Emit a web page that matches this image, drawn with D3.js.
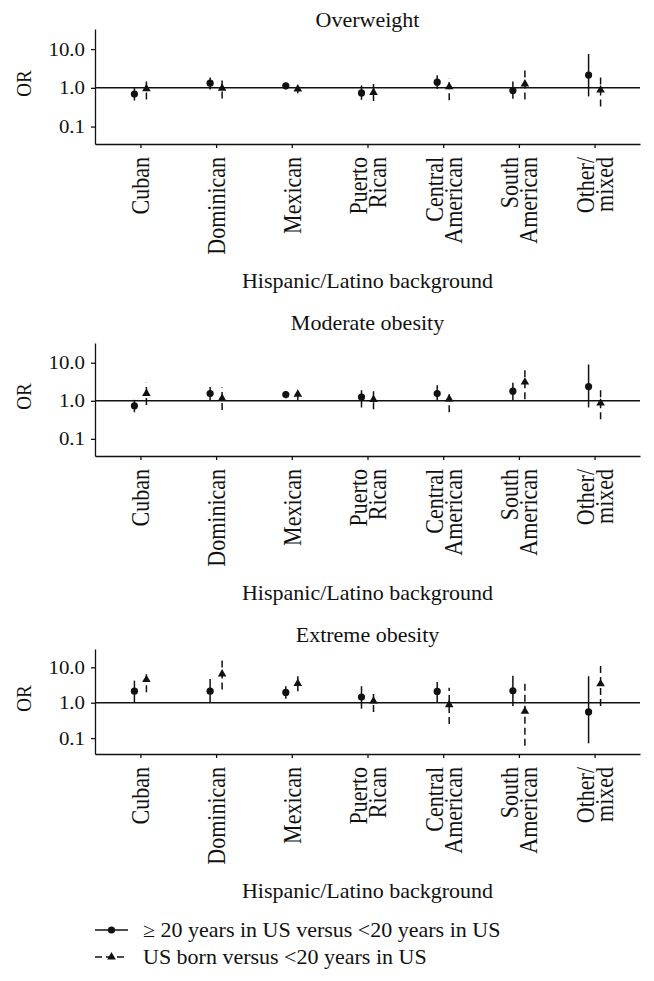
<!DOCTYPE html>
<html>
<head>
<meta charset="utf-8">
<script src="https://cdn.jsdelivr.net/npm/d3@7"></script>
<style>
  body { margin: 0; background: #fff; }
  text { font-family: "Liberation Serif", "Times New Roman", serif; fill: #111; }
</style>
</head>
<body>
<svg id="chart" width="654" height="981"></svg>
<script>
// categories and panels
var categories = ["Cuban", "Dominican", "Mexican", "Puerto Rican", "Central American", "South American", "Other/mixed"];
var categoryLines = [["Cuban"], ["Dominican"], ["Mexican"], ["Puerto", "Rican"], ["Central", "American"], ["South", "American"], ["Other/", "mixed"]];
var panelTitles = ["Overweight", "Moderate obesity", "Extreme obesity"];
var yTicks = [0.1, 1, 10];
var legendLabels = ["\u2265 20 years in US versus <20 years in US", "US born versus <20 years in US"];

// >=20 years in US vs <20 years (circles, solid)
var overLongOR = [0.69, 1.32, 1.13, 0.74, 1.40, 0.85, 2.13];
var overLongLo = [0.47, 0.90, 0.92, 0.49, 0.93, 0.52, 0.60];
var overLongHi = [1.00, 1.85, 1.35, 1.15, 2.10, 1.45, 7.5];
// US born vs <20 years (triangles, dashed)
var overBornOR = [0.95, 0.98, 0.93, 0.76, 1.06, 1.25, 0.88];
var overBornLo = [0.50, 0.53, 0.72, 0.46, 0.48, 0.50, 0.33];
var overBornHi = [1.75, 1.80, 1.15, 1.25, 1.80, 2.90, 1.90];

var modLongOR = [0.74, 1.55, 1.46, 1.25, 1.55, 1.79, 2.36];
var modLongLo = [0.50, 1.04, 1.17, 0.67, 1.04, 1.04, 0.67];
var modLongHi = [1.06, 2.30, 1.80, 1.90, 2.56, 3.00, 9.0];
var modBornOR = [1.55, 1.15, 1.48, 1.08, 1.12, 3.10, 0.87];
var modBornLo = [0.78, 0.57, 1.04, 0.60, 0.50, 1.10, 0.33];
var modBornHi = [3.00, 2.23, 1.80, 1.90, 1.90, 7.4, 1.90];

var extLongOR = [2.12, 2.12, 1.95, 1.44, 2.08, 2.17, 0.55];
var extLongLo = [1.00, 1.00, 1.29, 0.68, 1.00, 0.81, 0.071];
var extLongHi = [4.2, 4.7, 2.93, 2.93, 3.88, 5.8, 5.6];
var extBornOR = [4.5, 6.5, 3.48, 1.11, 0.88, 0.57, 3.41];
var extBornLo = [1.99, 2.36, 2.12, 0.55, 0.25, 0.061, 0.81];
var extBornHi = [8.1, 16.4, 5.6, 2.12, 2.63, 3.8, 13.8];

var panelData = [
    [[overLongOR, overLongLo, overLongHi], [overBornOR, overBornLo, overBornHi]],
    [[modLongOR, modLongLo, modLongHi], [modBornOR, modBornLo, modBornHi]],
    [[extLongOR, extLongLo, extLongHi], [extBornOR, extBornLo, extBornHi]]
];

// layout
var svg = d3.select("#chart");
var S = 1.1;               // the picture is a bit wider than tall, text is stretched
var xLeft = 95, xRight = 640;
var panelTop = [29, 343, 649],
    panelBottom = [144, 456, 754],
    titleBase = [27, 330, 642];
var dodge = 6;
var dash = "7,4";

function stretched(sel, x, y, rot) {
    sel.attr("transform", "translate(" + x + "," + y + ") scale(" + S + ",1)" + (rot ? " rotate(-90)" : ""));
    return sel;
}

function drawPanel(i) {
    var top = panelTop[i], bottom = panelBottom[i];
    var g = svg.append("g");

    var x = d3.scalePoint().domain(categories).range([xLeft, xRight]).padding(0.6);
    var y = d3.scaleLog().domain([0.0355, 33]).range([bottom, top]);

    // title
    stretched(g.append("text"), (xLeft + xRight) / 2, titleBase[i])
        .attr("text-anchor", "middle")
        .style("font-size", "20px")
        .text(panelTitles[i]);

    // y axis
    var yAxis = d3.axisLeft(y).tickValues(yTicks).tickFormat(d3.format(".1f")).tickSize(4).tickSizeOuter(0);
    var ya = g.append("g").attr("transform", "translate(" + xLeft + ",0)").call(yAxis);
    ya.selectAll("text")
        .attr("x", -10 / S)
        .attr("transform", "scale(" + S + ",1)")
        .style("font-size", "19px")
        .style("font-family", "Liberation Serif");

    // x axis
    var xAxis = d3.axisBottom(x).tickFormat("").tickSize(4).tickSizeOuter(0);
    var xa = g.append("g").attr("transform", "translate(0," + bottom + ")").call(xAxis);
    xa.selectAll(".tick").each(function (d, k) {
        var lines = categoryLines[k];
        var t = d3.select(this).append("text")
            .attr("transform", "scale(" + S + ",1) rotate(-90)")
            .attr("text-anchor", "end")
            .style("font-size", "22px")
            .attr("fill", "#111");
        lines.forEach(function (ln, j) {
            var off = lines.length === 1 ? 0 : (j === 0 ? -9.5 : 9.5);
            t.append("tspan").attr("x", -13).attr("y", off / S).attr("dy", "0.35em").text(ln);
        });
    });
    [ya, xa].forEach(function (a) {
        a.selectAll("path, line").attr("stroke", "#111").attr("stroke-width", 1.3);
    });

    // OR = 1 reference
    g.append("line")
        .attr("x1", xLeft).attr("x2", xRight)
        .attr("y1", y(1)).attr("y2", y(1))
        .attr("stroke", "#111").attr("stroke-width", 1.5);

    // axis labels
    stretched(g.append("text"), 24, (top + bottom) / 2 - 3, true)
        .attr("text-anchor", "middle")
        .attr("dy", "0.35em")
        .style("font-size", "19px")
        .text("OR");
    stretched(g.append("text"), (xLeft + xRight) / 2, bottom + 144)
        .attr("text-anchor", "middle")
        .style("font-size", "20px")
        .text("Hispanic/Latino background");

    // two series
    panelData[i].forEach(function (series, s) {
        var or = series[0], lo = series[1], hi = series[2];
        var pts = categories.map(function (c, k) {
            return {cx: x(c) + (s === 0 ? -dodge : dodge), or: or[k], lo: lo[k], hi: hi[k]};
        });
        g.selectAll(".bar" + s).data(pts).enter().append("line")
            .attr("x1", function (d) { return d.cx; })
            .attr("x2", function (d) { return d.cx; })
            .attr("y1", function (d) { return y(d.lo); })
            .attr("y2", function (d) { return y(d.hi); })
            .attr("stroke", "#111")
            .attr("stroke-width", 1.5)
            .attr("stroke-dasharray", s === 0 ? null : dash);
        if (s === 0) {
            g.selectAll(".pt" + s).data(pts).enter().append("circle")
                .attr("cx", function (d) { return d.cx; })
                .attr("cy", function (d) { return y(d.or); })
                .attr("r", 3.6)
                .attr("fill", "#111");
        } else {
            g.selectAll(".pt" + s).data(pts).enter().append("path")
                .attr("d", d3.symbol(d3.symbolTriangle, 32))
                .attr("transform", function (d) { return "translate(" + d.cx + "," + y(d.or) + ")"; })
                .attr("fill", "#111");
        }
    });
}

[0, 1, 2].forEach(drawPanel);

// legend
var legY = [930, 957];
legendLabels.forEach(function (lab, s) {
    var lg = svg.append("g").attr("transform", "translate(0," + legY[s] + ")");
    lg.append("line").attr("x1", 95).attr("x2", 128).attr("y1", 0).attr("y2", 0)
        .attr("stroke", "#111").attr("stroke-width", 1.5)
        .attr("stroke-dasharray", s === 0 ? null : dash);
    if (s === 0) {
        lg.append("circle").attr("cx", 111.5).attr("cy", 0).attr("r", 3.6).attr("fill", "#111");
    } else {
        lg.append("path").attr("d", d3.symbol(d3.symbolTriangle, 32))
            .attr("transform", "translate(111.5,0)").attr("fill", "#111");
    }
    stretched(lg.append("text"), 143, 0)
        .attr("dy", "0.35em")
        .style("font-size", "20px")
        .text(lab);
});
</script>
</body>
</html>
